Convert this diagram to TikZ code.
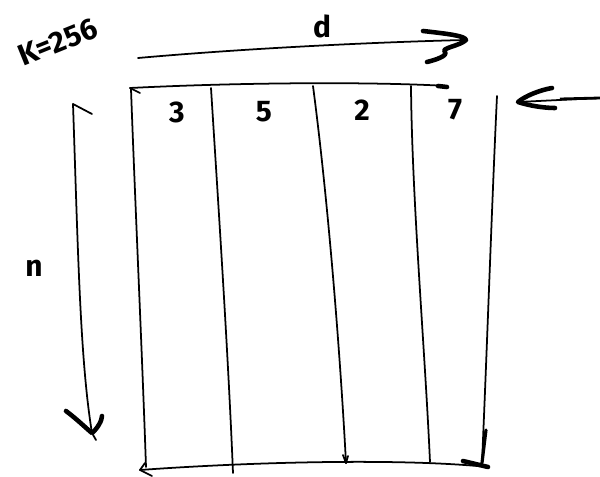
\documentclass[tikz,border=0pt]{standalone}
\usepackage{fontspec}
\setmainfont{Fira Sans}
\usetikzlibrary{arrows.meta}
\begin{document}
\begin{tikzpicture}[x=0.02cm,y=-0.02cm,
  thinline/.style={line width=1pt,line cap=round},
  thickstroke/.style={line width=2.6pt,line cap=round,line join=round},
  hand/.style={font=\fontsize{17}{17}\selectfont\bfseries,inner sep=0pt}]
\useasboundingbox (0,0) rectangle (600,477);
% labels
\node[hand,rotate=22] (k) at (58,42) {K=256};
\node[hand] (d) at (322,26) {d};
\node[hand] (n) at (34,268) {n};
\node[hand] (c1) at (177,112) {3};
\node[hand] (c2) at (264,112) {5};
\node[hand] (c3) at (362,110) {2};
\node[hand] (c4) at (455,110) {7};
% coordinates
\coordinate (dA) at (138,58);
\coordinate (dB) at (465,40);
\coordinate (tl) at (130,88);
\coordinate (tr) at (447,86);
\coordinate (bl) at (140,470);
\coordinate (br) at (488,467);
\coordinate (v1a) at (131,89);  \coordinate (v1b) at (146,467);
\coordinate (v2a) at (211,88);  \coordinate (v2b) at (233,473);
\coordinate (v3a) at (313,86);  \coordinate (v3b) at (346,463);
\coordinate (v4a) at (411,86);  \coordinate (v4b) at (430,462);
\coordinate (v5a) at (497,96);  \coordinate (v5b) at (482,463);
\coordinate (rA) at (600,98);
\coordinate (rB) at (518,102);
\coordinate (nA) at (73,104);
\coordinate (nB) at (92,433);
% d arrow
\draw[thinline] (dA) .. controls (250,48) and (380,42) .. (dB);
\draw[thickstroke] (423,31) .. controls (450,34) and (465,36) .. (466,40) .. controls (460,46) and (440,48) .. (445,52) .. controls (448,56) and (435,60) .. (427,62);
% top line
\draw[thinline] (tl) .. controls (250,82) and (380,82) .. (tr);
\draw[thickstroke] (438,86) -- (447,87);
\draw[thinline] (tl) -- (140,93);
% verticals
\draw[thinline] (v1a) .. controls (135,200) and (142,350) .. (v1b);
\draw[thinline] (v2a) .. controls (218,200) and (228,350) .. (v2b);
\draw[thinline] (v3a) .. controls (328,200) and (340,350) .. (v3b);
\draw[thinline] (v3b) -- (343,455);
\draw[thinline] (v3b) -- (348,456);
\draw[thinline] (v4a) .. controls (412,200) and (425,350) .. (v4b);
\draw[thinline] (v5a) .. controls (492,200) and (487,350) .. (v5b);
\draw[line width=1.8pt,line cap=round] (486,430) -- (482,463);
% bottom line
\draw[thinline] (bl) .. controls (250,462) and (400,458) .. (br);
\draw[thinline] (bl) -- (145,463);
\draw[thinline] (bl) -- (152,476);
\draw[thickstroke] (463,461) -- (488,467);
% right arrow
\draw[thinline] (rA) -- (rB);
\draw[line width=1.6pt] (600,98) -- (560,99);
\draw[thickstroke] (552,88) .. controls (540,90) and (525,96) .. (rB) .. controls (530,106) and (545,108) .. (555,108);
% n arrow
\draw[thinline] (nA) .. controls (78,250) and (80,360) .. (nB);
\draw[thinline] (nA) -- (92,114);
\draw[thickstroke] (66,411) .. controls (78,420) and (88,430) .. (nB) .. controls (98,428) and (102,420) .. (102,416);
\draw[thinline] (nB) -- (96,440);
\end{tikzpicture}
\end{document}
